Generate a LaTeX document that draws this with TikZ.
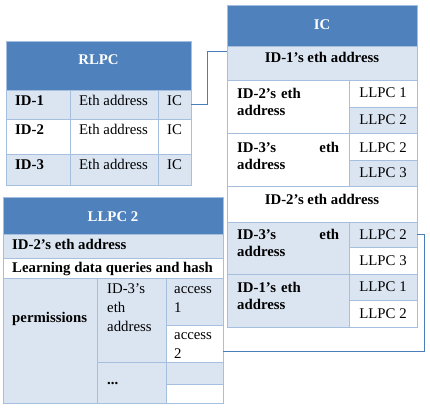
\documentclass[tikz,border=0pt]{standalone}
\usepackage{fontspec}
\setmainfont{Liberation Serif}
\usepackage{tikz}

\definecolor{headblue}{HTML}{4F81BD}
\definecolor{rowlite}{HTML}{DBE5F1}
\definecolor{gridline}{HTML}{A7BFDE}
\definecolor{linkblue}{HTML}{4A7EBB}

% one table cell: name, x, y, width, height, fill
\newcommand{\cellat}[6]{\node[cellbox, fill=#6, minimum width=#4pt, minimum height=#5pt] (#1) at (#2,#3) {};}

\begin{document}
\begin{tikzpicture}[
    x=1pt, y=-1pt,
    font=\fontsize{14.8}{17}\selectfont,
    cellbox/.style={rectangle, draw=gridline, line width=0.8pt, anchor=north west, inner sep=0pt, outer sep=0pt},
    txt/.style={anchor=base west, inner sep=0pt},
    bold/.style={txt, font=\fontsize{14.8}{17}\selectfont\bfseries},
    head/.style={bold, anchor=base, text=white},
    loose/.style={txt, font=\fontsize{14.8}{19}\selectfont, text width=52pt, align=left},
    link/.style={draw=linkblue, line width=0.9pt}
    ]
\useasboundingbox (0,0) rectangle (430,409);

% RLPC
\cellat{rhead}{6}{41}{185}{49}{headblue}
\cellat{r1a}{6}{90}{64}{29}{rowlite}
\cellat{r1b}{70}{90}{88}{29}{rowlite}
\cellat{r1c}{158}{90}{33}{29}{rowlite}
\cellat{r2a}{6}{119}{64}{35}{white}
\cellat{r2b}{70}{119}{88}{35}{white}
\cellat{r2c}{158}{119}{33}{35}{white}
\cellat{r3a}{6}{154}{64}{31}{rowlite}
\cellat{r3b}{70}{154}{88}{31}{rowlite}
\cellat{r3c}{158}{154}{33}{31}{rowlite}

\node[head] (rtitle) at (98.5,65) {RLPC};
\node[bold] (rid1) at (15,106) {ID-1};
\node[txt] (reth1) at (79,106) {Eth address};
\node[txt] (ric1) at (167,106) {IC};
\node[bold] (rid2) at (15,134) {ID-2};
\node[txt] (reth2) at (79,134) {Eth address};
\node[txt] (ric2) at (167,134) {IC};
\node[bold] (rid3) at (15,169) {ID-3};
\node[txt] (reth3) at (79,169) {Eth address};
\node[txt] (ric3) at (167,169) {IC};

% IC
\cellat{ichead}{227}{5}{190}{41}{headblue}
\cellat{icr1}{227}{46}{190}{34}{rowlite}
\cellat{icr2}{227}{80}{122}{53}{white}
\cellat{icl1}{349}{80}{68}{27}{white}
\cellat{icl2}{349}{107}{68}{26}{rowlite}
\cellat{icr3}{227}{133}{122}{53}{white}
\cellat{icl3}{349}{133}{68}{27}{white}
\cellat{icl4}{349}{160}{68}{26}{rowlite}
\cellat{icr4}{227}{186}{190}{36}{white}
\cellat{icr5}{227}{222}{122}{52}{rowlite}
\cellat{icl5}{349}{222}{68}{25}{rowlite}
\cellat{icl6}{349}{247}{68}{27}{white}
\cellat{icr6}{227}{274}{122}{53}{rowlite}
\cellat{icl7}{349}{274}{68}{26}{rowlite}
\cellat{icl8}{349}{300}{68}{27}{white}

\node[head] (ictitle) at (322,30) {IC};
\node[bold, anchor=base] (ict1) at (322,63) {ID-1’s eth address};
\node[bold, text width=102pt, align=left] (ict2) at (237,99) {ID-2’s eth\\address};
\node[bold, text width=102pt, align=left] (ict3) at (237,152) {ID-3’s\hfill eth\\address};
\node[bold, anchor=base] (ict4) at (322,204) {ID-2’s eth address};
\node[bold, text width=102pt, align=left] (ict5) at (237,239) {ID-3’s\hfill eth\\address};
\node[bold, text width=102pt, align=left] (ict6) at (237,292) {ID-1’s eth\\address};
\node[txt, anchor=base] (icn1) at (383,98) {LLPC 1};
\node[txt, anchor=base] (icn2) at (383,124) {LLPC 2};
\node[txt, anchor=base] (icn3) at (383,152) {LLPC 2};
\node[txt, anchor=base] (icn4) at (383,177) {LLPC 3};
\node[txt, anchor=base] (icn5) at (383,239) {LLPC 2};
\node[txt, anchor=base] (icn6) at (383,265) {LLPC 3};
\node[txt, anchor=base] (icn7) at (383,291) {LLPC 1};
\node[txt, anchor=base] (icn8) at (383,318) {LLPC 2};

% LLPC 2
\cellat{lhead}{3}{197}{220}{37}{headblue}
\cellat{lr1}{3}{234}{220}{24}{rowlite}
\cellat{lr2}{3}{258}{220}{20}{white}
\cellat{lperm}{3}{278}{94}{125}{rowlite}
\cellat{lid3}{97}{278}{69}{84}{rowlite}
\cellat{lacc1}{166}{278}{57}{47}{rowlite}
\cellat{lacc2}{166}{325}{57}{37}{white}
\cellat{ldots}{97}{362}{69}{41}{rowlite}
\cellat{lemp1}{166}{362}{57}{22}{rowlite}
\cellat{lemp2}{166}{384}{57}{19}{white}

\node[head] (ltitle) at (113,221) {LLPC 2};
\node[bold] (lt1) at (12,249) {ID-2’s eth address};
\node[bold] (lt2) at (12,272) {Learning data queries and hash};
\node[bold] (lt3) at (12,322) {permissions};
\node[loose] (lt4) at (107,293) {ID-3’s\\eth\\address};
\node[loose] (lt5) at (174,293) {access\\1};
\node[loose] (lt6) at (174,339) {access\\2};
\node[bold] (lt7) at (107,384) {...};

% links
\coordinate (icin) at (227,51);
\coordinate (accin) at (223,351);
\draw[link] (r1c.east) -- ++(16,0) |- (icin);
\draw[link] (icl5.east) -- ++(7,0) |- (accin);
\end{tikzpicture}
\end{document}
